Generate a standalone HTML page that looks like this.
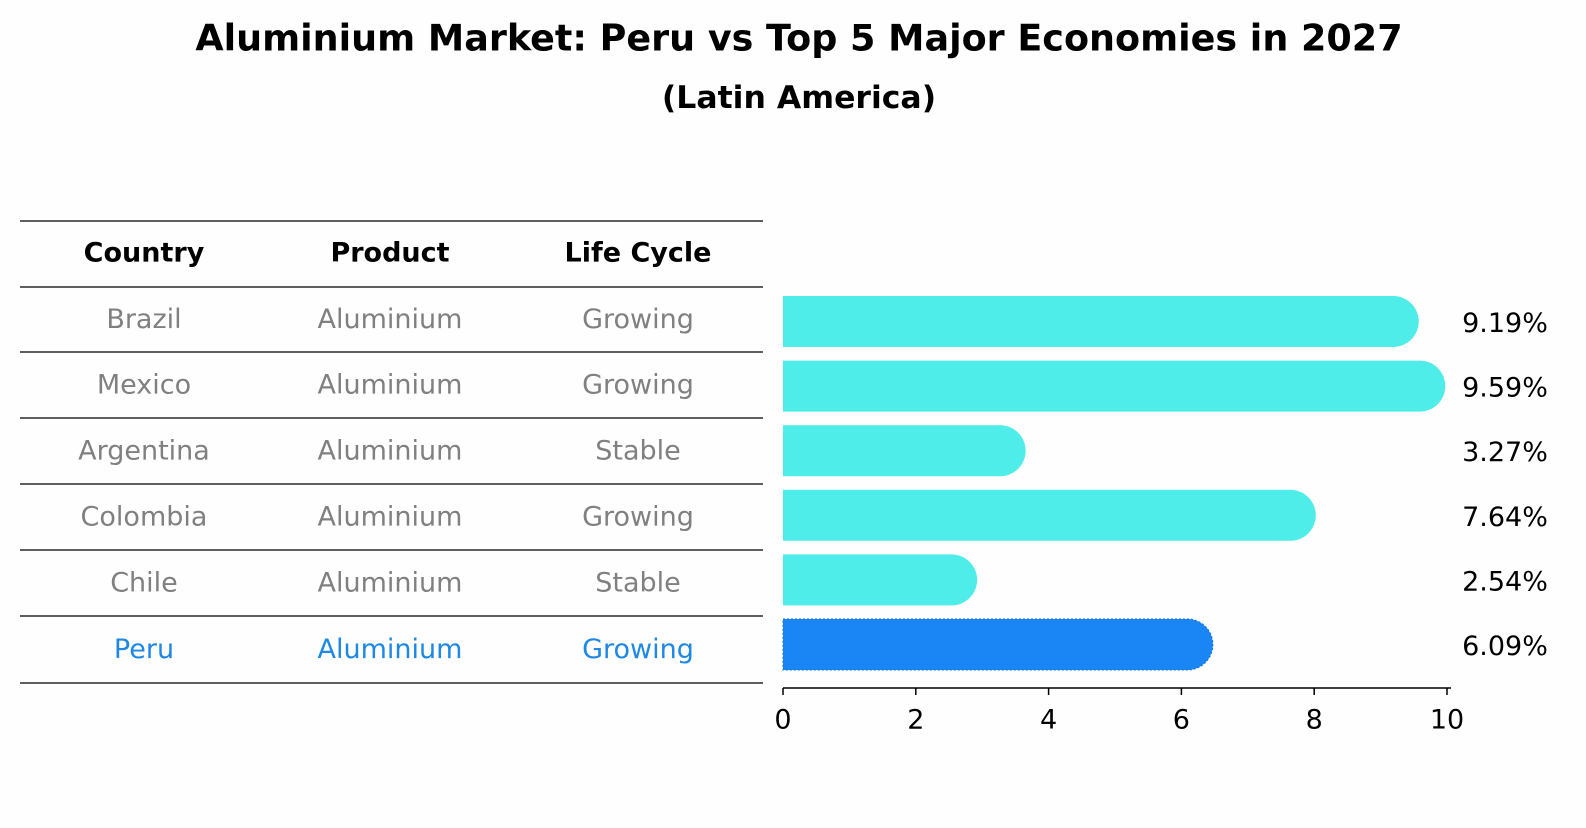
<!DOCTYPE html>
<html><head><meta charset="utf-8"><style>
body{margin:0;background:#fefefe;}
svg text{font-family:"DejaVu Sans","Liberation Sans",sans-serif;}
</style></head><body>
<svg width="1586" height="823" xmlns="http://www.w3.org/2000/svg">
<rect width="1586" height="823" fill="#fefefe"/>
<text x="799" y="38" text-anchor="middle" dominant-baseline="central" font-size="36.5" font-weight="bold">Aluminium Market: Peru vs Top 5 Major Economies in 2027</text>
<text x="799" y="98" text-anchor="middle" dominant-baseline="central" font-size="31.5" font-weight="bold">(Latin America)</text>
<g id="table"></g>
<g id="bars"></g>
<g id="axis"></g>
</svg>
<script>
const countries=["Brazil","Mexico","Argentina","Colombia","Chile","Peru"];
const products=["Aluminium","Aluminium","Aluminium","Aluminium","Aluminium","Aluminium"];
const lifeCycles=["Growing","Growing","Stable","Growing","Stable","Growing"];
const values=[9.19,9.59,3.27,7.64,2.54,6.09];
const ticks=[0,2,4,6,8,10];
const NS="http://www.w3.org/2000/svg";
const x0=783,x1=1447,xmax=10;
const xs=v=>x0+(x1-x0)*v/xmax;
const rowY=i=>321.5+i*64.6;
function mk(tag,attrs,parent){const e=document.createElementNS(NS,tag);for(const k in attrs)e.setAttribute(k,attrs[k]);parent.appendChild(e);return e;}
const tb=document.getElementById('table');
const lines=[221,287,352,418,484,550,616,683];
lines.forEach(y=>{const l=mk('line',{x1:20,x2:763,y1:y,y2:y,stroke:'#000','stroke-width':1.2},tb);

});
const colX=[144,390,638];
["Country","Product","Life Cycle"].forEach((h,j)=>{const t=mk('text',{x:colX[j],y:253,'text-anchor':'middle','dominant-baseline':'central','font-size':27,'font-weight':'bold'},tb);t.textContent=h;

});
countries.forEach((c,i)=>{const isP=c==="Peru";const cols=[c,products[i],lifeCycles[i]];
cols.forEach((s,j)=>{const t=mk('text',{x:colX[j],y:(lines[i+1]+lines[i+2])/2,'text-anchor':'middle','dominant-baseline':'central','font-size':27,fill:isP?'#1E88E5':'#808080'},tb);t.textContent=s;

});});
const bg=document.getElementById('bars');
const h=51;
values.forEach((v,i)=>{const isP=countries[i]==="Peru";const y=rowY(i)-h/2;const xe=xs(v);const r=h/2;
const p=mk('path',{d:`M${x0},${y}H${xe}A${r},${r} 0 0 1 ${xe},${y+h}H${x0}Z`,fill:isP?'#1A86F5':'#4EEDE9'},bg);
if(isP){p.setAttribute('stroke','#1570d0');p.setAttribute('stroke-dasharray','2,2');p.setAttribute('stroke-width','1');}


const t=mk('text',{x:1505,y:rowY(i)+2,'text-anchor':'middle','dominant-baseline':'central','font-size':27},bg);t.textContent=v.toFixed(2)+'%';

});
const ax=document.getElementById('axis');
const al=mk('line',{x1:x0,x2:1451,y1:688,y2:688,stroke:'#000','stroke-width':1.5},ax);


ticks.forEach(v=>{const tl=mk('line',{x1:xs(v),x2:xs(v),y1:688,y2:695,stroke:'#000','stroke-width':1.5},ax);


const t=mk('text',{x:xs(v),y:720,'text-anchor':'middle','dominant-baseline':'central','font-size':27},ax);t.textContent=v;

});
</script>
</body></html>
